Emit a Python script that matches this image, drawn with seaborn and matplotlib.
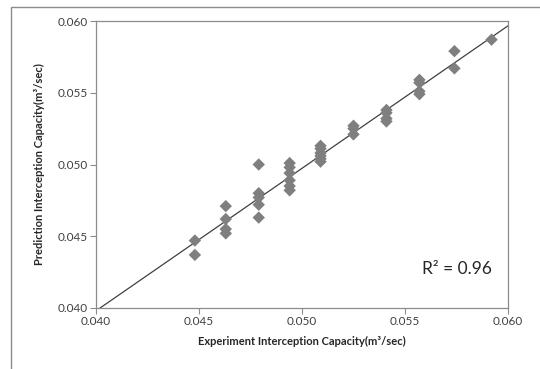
import matplotlib
matplotlib.use("Agg")
import matplotlib.pyplot as plt
import seaborn as sns
import numpy as np
import pandas as pd
from matplotlib.patches import Rectangle

experiment = [0.0448, 0.0448,
              0.0463, 0.0463, 0.0463, 0.0463,
              0.0479, 0.0479, 0.0479, 0.0479, 0.0479,
              0.0494, 0.0494, 0.0494, 0.0494, 0.0494, 0.0494,
              0.0509, 0.0509, 0.0509, 0.0509, 0.0509, 0.0509,
              0.0525, 0.0525, 0.0525,
              0.0541, 0.0541, 0.0541, 0.0541,
              0.0557, 0.0557, 0.0557, 0.0557,
              0.0574, 0.0574,
              0.0592]
prediction = [0.0447, 0.0437,
              0.0471, 0.0462, 0.0455, 0.0452,
              0.0500, 0.0480, 0.0477, 0.0472, 0.0463,
              0.0501, 0.0498, 0.0494, 0.0489, 0.0485, 0.0482,
              0.0513, 0.0511, 0.0508, 0.0506, 0.0504, 0.0502,
              0.0527, 0.0525, 0.0521,
              0.0538, 0.0536, 0.0532, 0.0530,
              0.0559, 0.0557, 0.0551, 0.0549,
              0.0579, 0.0567,
              0.0587]
ticks = [0.040, 0.045, 0.050, 0.055, 0.060]
tick_labels = ["0.040", "0.045", "0.050", "0.055", "0.060"]

df = pd.DataFrame({"exp": experiment, "pred": prediction})

sns.set_style("white")
plt.rcParams['font.family'] = ['Lato', 'DejaVu Sans']

fig = plt.figure(figsize=(5.4, 3.69), dpi=100)
ax = fig.add_axes([96/540, 1-308/369, 412/540, 287/369])
ax.set_xlim(0.040, 0.060)
ax.set_ylim(0.040, 0.060)

fig.patches.append(Rectangle((11/540, -0.1), 1.2, 1 - 7/369 + 0.1,
                             transform=fig.transFigure, fill=False,
                             edgecolor="#8c8c8c", linewidth=1.0))

sns.regplot(data=df, x="exp", y="pred", ax=ax, ci=None, truncate=False,
            marker="D",
            scatter_kws={"s": 40, "color": "#7f7f7f", "edgecolors": "none", "alpha": 1, "zorder": 3},
            line_kws={"color": "#404040", "linewidth": 0.9, "zorder": 2})

ax.set_xlim(0.040, 0.060)
ax.set_ylim(0.040, 0.060)
ax.set_xticks(ticks)
ax.set_xticklabels(tick_labels)
ax.set_yticks(ticks)
ax.set_yticklabels(tick_labels)
ax.tick_params(axis="both", which="major", direction="out", length=4, width=0.8,
               color="#8c8c8c", labelsize=8.5, labelcolor="#404040", pad=2,
               bottom=True, left=True)
for s in ax.spines.values():
    s.set_color("#8c8c8c")
    s.set_linewidth(0.9)

ax.set_xlabel("Experiment Interception Capacity(m³/sec)", fontsize=8,
              fontweight="bold", color="#262626", labelpad=6)
ax.set_ylabel("Prediction Interception Capacity(m³/sec)", fontsize=8,
              fontweight="bold", color="#262626", labelpad=9)

ax.text(0.0575, 0.0427, "R² = 0.96", fontsize=12.5, color="#262626",
        ha="center", va="center")

fig.savefig("out.png", dpi=100)
